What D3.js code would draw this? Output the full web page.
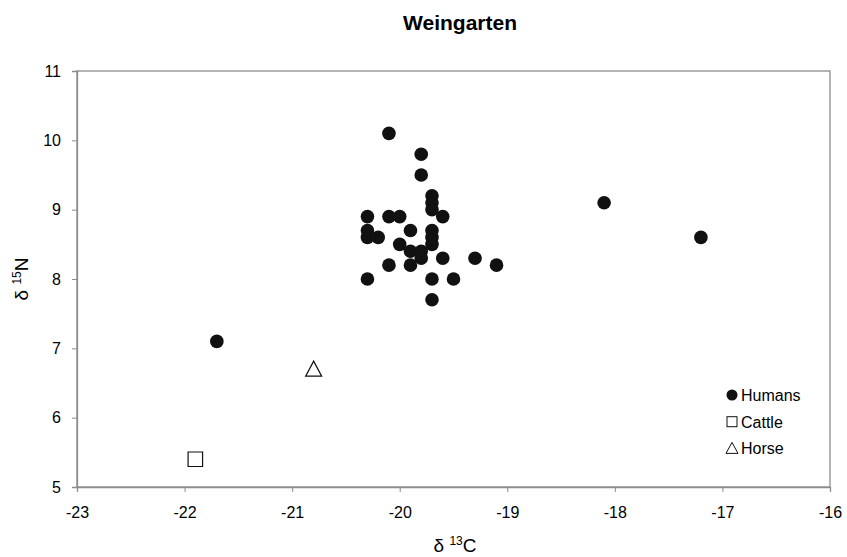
<!DOCTYPE html>
<html>
<head>
<meta charset="utf-8">
<script src="https://cdn.jsdelivr.net/npm/d3@7"></script>
<style>
  body { margin: 0; background: #fff; }
  svg text { font-family: "Liberation Sans", Arial, sans-serif; fill: #000; }
</style>
</head>
<body>
<div id="chart"></div>
<script>
// Données
const humansC = [-20.1, -19.8, -19.8, -19.7, -19.7, -19.7, -20.3, -20.1, -20.0, -19.6,
  -20.3, -20.3, -20.2, -19.9, -19.7, -19.7, -19.7, -20.0, -19.9, -19.8, -19.8,
  -19.6, -19.3, -19.1, -20.1, -19.9, -20.3, -19.7, -19.5, -19.7,
  -18.1, -17.2, -21.7];
const humansN = [10.1, 9.8, 9.5, 9.2, 9.1, 9.0, 8.9, 8.9, 8.9, 8.9,
  8.7, 8.6, 8.6, 8.7, 8.7, 8.6, 8.5, 8.5, 8.4, 8.4, 8.3,
  8.3, 8.3, 8.2, 8.2, 8.2, 8.0, 8.0, 8.0, 7.7,
  9.1, 8.6, 7.1];
const cattleC = [-21.9];
const cattleN = [5.4];
const horseC = [-20.8];
const horseN = [6.7];
const xTicks = [-23, -22, -21, -20, -19, -18, -17, -16];
const yTicks = [5, 6, 7, 8, 9, 10, 11];
const legendLabels = ["Humans", "Cattle", "Horse"];

const width = 847, height = 557;
const margin = {left: 77, right: 17, top: 71, bottom: 70};

const svg = d3.select("#chart").append("svg")
  .attr("width", width)
  .attr("height", height);

const x = d3.scaleLinear().domain([-23, -16]).range([margin.left, width - margin.right]);
const y = d3.scaleLinear().domain([5, 11]).range([height - margin.bottom, margin.top]);

// Cadre
svg.append("rect")
  .attr("x", x(-23)).attr("y", y(11))
  .attr("width", x(-16) - x(-23)).attr("height", y(5) - y(11))
  .attr("fill", "none").attr("stroke", "#8c8c8c").attr("stroke-width", 1.3);

// Axes (tirets simples comme dans Excel)
const fmt = d => String(d);
const xAxis = svg.append("g")
  .attr("transform", `translate(0,${y(5)})`)
  .call(d3.axisBottom(x).tickValues(xTicks).tickSize(5).tickPadding(12).tickFormat(fmt));
const yAxis = svg.append("g")
  .attr("transform", `translate(${x(-23)},0)`)
  .call(d3.axisLeft(y).tickValues(yTicks).tickSize(5).tickPadding(11).tickFormat(fmt));
[xAxis, yAxis].forEach(a => {
  a.select(".domain").attr("stroke", "#8c8c8c").attr("stroke-width", 1.3);
  a.selectAll(".tick line").attr("stroke", "#8c8c8c");
  a.selectAll(".tick text").attr("font-size", "16px").attr("fill", "#000")
    .style("font-family", "'Liberation Sans', Arial, sans-serif");
});
xAxis.selectAll(".tick text").attr("dy", "0.85em");

// Titres
svg.append("text")
  .attr("x", 460).attr("y", 30)
  .attr("text-anchor", "middle")
  .attr("font-size", "21px").attr("font-weight", "bold")
  .text("Weingarten");

const xt = svg.append("text")
  .attr("x", 455).attr("y", 552)
  .attr("text-anchor", "middle")
  .attr("font-size", "19px");
xt.append("tspan").text("δ ");
xt.append("tspan").attr("font-size", "12px").attr("dy", "-7").text("13");
xt.append("tspan").attr("dy", "7").text("C");

const yt = svg.append("text")
  .attr("transform", `translate(28,${(y(5) + y(11)) / 2}) rotate(-90)`)
  .attr("text-anchor", "middle")
  .attr("font-size", "19px");
yt.append("tspan").text("δ ");
yt.append("tspan").attr("font-size", "12px").attr("dy", "-7").text("15");
yt.append("tspan").attr("dy", "7").text("N");

// Points
const humans = humansC.map((c, i) => ({c, n: humansN[i]}));
svg.append("g").selectAll("circle")
  .data(humans)
  .enter()
  .append("circle")
  .attr("cx", d => x(d.c))
  .attr("cy", d => y(d.n))
  .attr("r", 6.8)
  .attr("fill", "#111");

const cattle = cattleC.map((c, i) => ({c, n: cattleN[i]}));
svg.append("g").selectAll("path")
  .data(cattle)
  .enter()
  .append("path")
  .attr("transform", d => `translate(${x(d.c)},${y(d.n)})`)
  .attr("d", d3.symbol(d3.symbolSquare, 210))
  .attr("fill", "#fff").attr("stroke", "#111").attr("stroke-width", 1.2);

const horse = horseC.map((c, i) => ({c, n: horseN[i]}));
svg.append("g").selectAll("path")
  .data(horse)
  .enter()
  .append("path")
  .attr("transform", d => `translate(${x(d.c)},${y(d.n)})`)
  .attr("d", "M0,-8L8,7L-8,7Z")
  .attr("fill", "#fff").attr("stroke", "#111").attr("stroke-width", 1.2);

// Légende
const legend = svg.selectAll(".legend")
  .data(legendLabels)
  .enter()
  .append("g")
  .attr("transform", (d, i) => `translate(732, ${395 + i * 26.7})`);

legend.each(function(d, i) {
  const g = d3.select(this);
  if (i === 0) {
    g.append("circle").attr("r", 5.5).attr("fill", "#111");
  } else if (i === 1) {
    g.append("rect").attr("x", -5).attr("y", -5).attr("width", 10).attr("height", 10)
      .attr("fill", "#fff").attr("stroke", "#111").attr("stroke-width", 1);
  } else {
    g.append("path").attr("d", "M0,-6L6,5L-6,5Z")
      .attr("fill", "#fff").attr("stroke", "#111").attr("stroke-width", 1);
  }
});

legend.append("text")
  .attr("x", 9)
  .attr("y", 6)
  .attr("font-size", "16px")
  .text(d => d);
</script>
</body>
</html>
